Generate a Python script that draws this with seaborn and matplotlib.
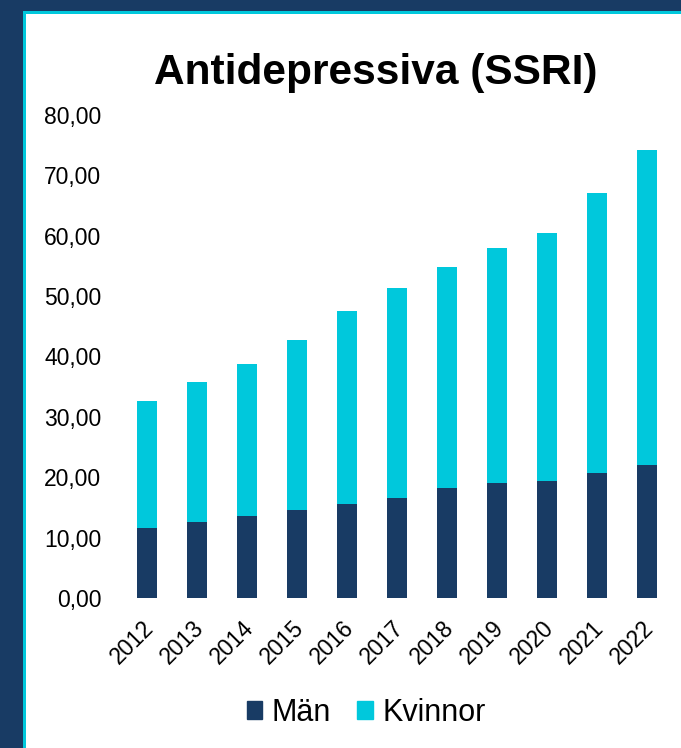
import matplotlib
matplotlib.use("Agg")
import matplotlib.pyplot as plt
import matplotlib.patches as mpatches
import matplotlib.transforms as mtransforms
import seaborn as sns
import pandas as pd

years = ["2012", "2013", "2014", "2015", "2016", "2017", "2018", "2019", "2020", "2021", "2022"]
man = [11.6, 12.6, 13.5, 14.6, 15.6, 16.5, 18.2, 19.1, 19.3, 20.7, 22.0]
kvinnor = [21.0, 23.2, 25.3, 28.2, 32.0, 34.9, 36.6, 38.8, 41.1, 46.4, 52.2]
yticks = [0, 10, 20, 30, 40, 50, 60, 70, 80]
title = "Antidepressiva (SSRI)"
series_names = ["Män", "Kvinnor"]

NAVY = "#183b64"
CYAN = "#00c8dc"

sns.set_theme(style="white")
plt.rcParams["font.family"] = ["Liberation Sans", "DejaVu Sans"]
plt.rcParams["text.color"] = "black"

df = pd.DataFrame({"year": years, "man": man, "kvinnor": kvinnor})
df["total"] = df["man"] + df["kvinnor"]

fig = plt.figure(figsize=(6.81, 7.48), dpi=100)
W, H = 681, 748
# frame background
fig.patches.append(mpatches.Rectangle((0, 0), 1, 1, transform=fig.transFigure,
                                      facecolor=NAVY, edgecolor="none", zorder=-3))
fig.patches.append(mpatches.Rectangle((23 / W, -0.1), 1.2, (H - 11) / H + 0.1,
                                      transform=fig.transFigure, facecolor=CYAN,
                                      edgecolor="none", zorder=-2))
fig.patches.append(mpatches.Rectangle((26 / W, -0.1), 1.2, (H - 14) / H + 0.1,
                                      transform=fig.transFigure, facecolor="white",
                                      edgecolor="none", zorder=-1))

ax = fig.add_axes([122 / W, 1 - 598 / H, (672 - 122) / W, (598 - 115) / H])
ax.set_facecolor("none")

sns.barplot(data=df, x="year", y="total", color=CYAN, width=0.4, ax=ax,
            saturation=1, linewidth=0, errorbar=None)
sns.barplot(data=df, x="year", y="man", color=NAVY, width=0.4, ax=ax,
            saturation=1, linewidth=0, errorbar=None)

ax.set_ylim(0, 80)
ax.set_xlim(-0.5, len(years) - 0.5)
ax.set_yticks(yticks)
ax.set_yticklabels([f"{v:.2f}".replace(".", ",") for v in yticks])
ax.set_xlabel("")
ax.set_ylabel("")
for s in ax.spines.values():
    s.set_visible(False)
ax.tick_params(axis="y", length=0, pad=15, labelsize=16.5, labelcolor="black")
ax.tick_params(axis="x", length=0, pad=13, labelsize=16.5, labelcolor="black")
offset = mtransforms.ScaledTranslation(-5 / 100, 0, fig.dpi_scale_trans)
for lab in ax.get_xticklabels():
    lab.set_rotation(45)
    lab.set_ha("right")
    lab.set_rotation_mode("anchor")
    lab.set_transform(lab.get_transform() + offset)

fig.text(376 / W, 1 - 73 / H, title, ha="center", va="center",
         fontsize=30.5, fontweight="bold", color="black")

handles = [mpatches.Patch(color=NAVY, label=series_names[0]),
           mpatches.Patch(color=CYAN, label=series_names[1])]
fig.legend(handles=handles, loc="center", bbox_to_anchor=(366 / W, 1 - 713 / H),
           ncol=2, frameon=False, fontsize=22, handlelength=0.52, handleheight=0.52,
           handletextpad=0.3, columnspacing=0.85, labelcolor="black")

fig.savefig("out.png", dpi=100)
